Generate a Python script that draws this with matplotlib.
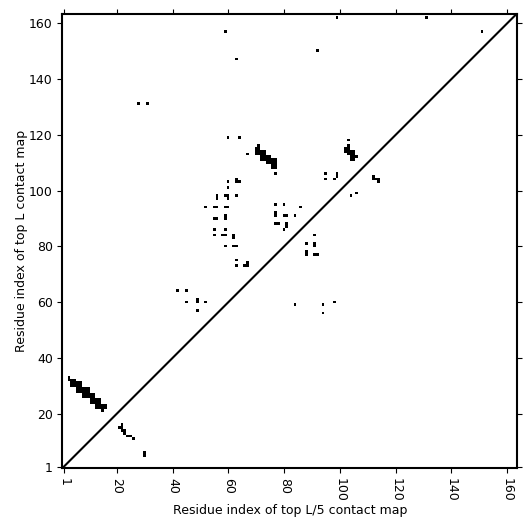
import numpy as np
import matplotlib
matplotlib.use('Agg')
import matplotlib.pyplot as plt

L = 163

# (x, y) residue pairs, top L/5 contacts, below the diagonal
top_l5_contacts = [
    (21, 15), (22, 14), (22, 15), (22, 16), (23, 13), (23, 14),
    (24, 12), (25, 12), (26, 11), (30, 5), (30, 6),
]

# (x, y) residue pairs, top L contacts, above the diagonal
helix_a = [
    (3, 32), (3, 33), (4, 30), (4, 31), (4, 32), (5, 30), (5, 31), (5, 32),
    (6, 28), (6, 29), (6, 30), (6, 31), (7, 28), (7, 29), (7, 30), (7, 31),
    (8, 26), (8, 27), (8, 28), (8, 29), (9, 26), (9, 27), (9, 28), (9, 29),
    (10, 26), (10, 27), (10, 28), (10, 29), (11, 24), (11, 25), (11, 26), (11, 27),
    (12, 24), (12, 25), (12, 26), (12, 27), (13, 22), (13, 23), (13, 24), (13, 25),
    (14, 22), (14, 23), (14, 24), (14, 25), (15, 21), (15, 22), (15, 23),
    (16, 22), (16, 23),
]
helix_b = [
    (70, 113), (70, 114), (70, 115), (71, 113), (71, 114), (71, 115), (71, 116),
    (72, 111), (72, 112), (72, 113), (72, 114), (73, 111), (73, 112), (73, 113), (73, 114),
    (74, 110), (74, 111), (74, 112), (75, 110), (75, 111), (75, 112),
    (76, 108), (76, 109), (76, 110), (76, 111), (77, 108), (77, 109), (77, 110), (77, 111),
    (77, 106),
]
helix_c = [
    (102, 114), (102, 115), (103, 113), (103, 114), (103, 115), (103, 116), (103, 118),
    (104, 111), (104, 112), (104, 113), (104, 114), (105, 111), (105, 112), (105, 113), (105, 114),
    (106, 112),
]
scattered = [
    (63, 104), (63, 103), (64, 103), (60, 103), (60, 101), (56, 97), (56, 98),
    (59, 98), (60, 98), (60, 97), (63, 98), (52, 94), (55, 94), (56, 94),
    (59, 94), (60, 94), (55, 90), (56, 90), (59, 90), (59, 91), (55, 86),
    (55, 84), (58, 84), (59, 84), (59, 86), (62, 83), (62, 84), (59, 80),
    (62, 80), (63, 80), (63, 75), (63, 73), (66, 73), (67, 73), (67, 74),
    (95, 106), (95, 104), (98, 104), (99, 105), (99, 106), (112, 104), (112, 105),
    (113, 104), (114, 103), (114, 104), (104, 98), (106, 99), (77, 95), (80, 95),
    (86, 94), (77, 91), (77, 92), (80, 91), (81, 91), (84, 91), (77, 88),
    (78, 88), (81, 87), (81, 88), (80, 86), (91, 84), (88, 81), (91, 80),
    (91, 81), (88, 77), (88, 78), (91, 77), (92, 77), (42, 64), (45, 64),
    (45, 60), (49, 60), (49, 61), (52, 60), (49, 57), (84, 59), (94, 59),
    (94, 56), (98, 60), (59, 157), (63, 147), (28, 131), (31, 131), (60, 119),
    (64, 119), (67, 113), (99, 162), (131, 162), (151, 157), (92, 150),
]

tick_values = [1, 20, 40, 60, 80, 100, 120, 140, 160]

contact_map = np.zeros((L, L))
for x, y in top_l5_contacts + helix_a + helix_b + helix_c + scattered:
    contact_map[y - 1, x - 1] = 1

fig = plt.figure(figsize=(5.31, 5.31), dpi=100)
ax = fig.add_axes([62.5 / 531, 63 / 531, 454.5 / 531, 454.5 / 531])
ax.imshow(contact_map, cmap='Greys', vmin=0, vmax=1, origin='lower',
          extent=(0.5, L + 0.5, 0.5, L + 0.5), interpolation='nearest', aspect='equal')

# main diagonal
ax.plot([0.5, L + 0.5], [0.5, L + 0.5], color='black', linewidth=1.5)
ax.set_xlim(0.5, L + 0.5)
ax.set_ylim(0.5, L + 0.5)

ax.set_xticks(tick_values)
ax.set_yticks(tick_values)
ax.tick_params(top=True, right=True, labelsize=9)
ax.tick_params(axis='x', labelrotation=270)
for side in ax.spines.values():
    side.set_linewidth(1.5)

ax.set_xlabel('Residue index of top L/5 contact map', fontsize=9, labelpad=2)
ax.set_ylabel('Residue index of top L contact map', fontsize=9, labelpad=0.5)

fig.savefig('out.png', dpi=100)
